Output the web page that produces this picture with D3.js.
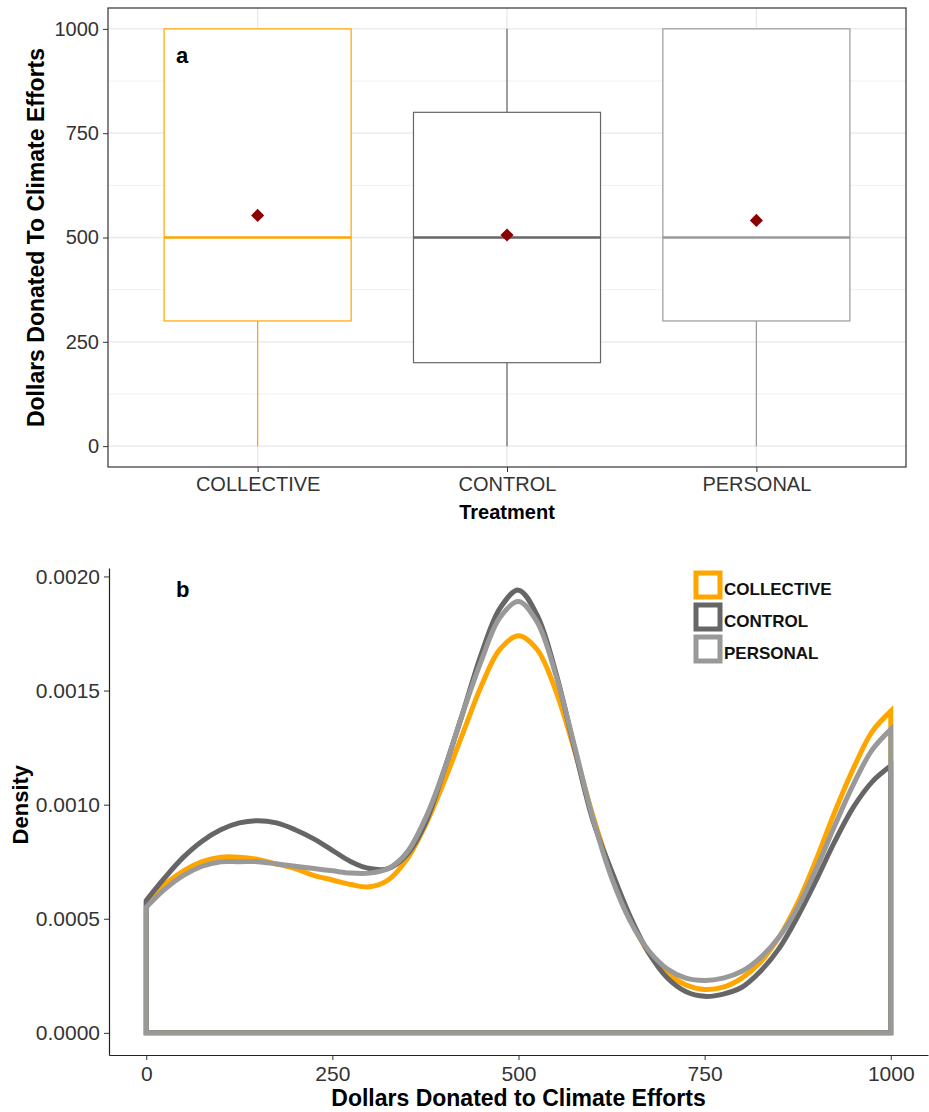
<!DOCTYPE html>
<html>
<head>
<meta charset="utf-8">
<title>Donations by treatment</title>
<script src="https://d3js.org/d3.v7.min.js"></script>
<style>
  body { margin: 0; background: #fff; }
  svg text { font-family: "Liberation Sans", Arial, sans-serif; }
</style>
</head>
<body>
<svg id="chart" width="929" height="1112"></svg>
<script>
// ---- data ----
const treatments = ["COLLECTIVE", "CONTROL", "PERSONAL"];
const boxLower  = [0, 0, 0];
const boxQ1     = [300, 200, 300];
const boxMedian = [500, 500, 500];
const boxQ3     = [1000, 800, 1000];
const boxUpper  = [1000, 1000, 1000];
const boxMean   = [553, 506, 541];
const boxYTicks = [0, 250, 500, 750, 1000];

const densityX = [0, 25, 50, 75, 100, 125, 150, 175, 200, 225, 250, 275, 300, 325, 350, 375, 400,
  425, 450, 475, 500, 525, 550, 575, 600, 625, 650, 675, 700, 725, 750, 775, 800, 825, 850, 875,
  900, 925, 950, 975, 1000];
const densityCollective = [0.00057, 0.00065, 0.00071, 0.00075, 0.00077, 0.00077, 0.00076, 0.00074,
  0.00072, 0.00069, 0.00067, 0.00065, 0.00064, 0.00067, 0.00076, 0.00091, 0.00110, 0.00131, 0.00152,
  0.00168, 0.00174, 0.00168, 0.00150, 0.00124, 0.00095, 0.00070, 0.00050, 0.00035, 0.00026, 0.00021,
  0.00019, 0.00020, 0.00024, 0.00031, 0.00042, 0.00057, 0.00076, 0.00097, 0.00116, 0.00132, 0.00141];
const densityControl = [0.00058, 0.00068, 0.00077, 0.00084, 0.00089, 0.00092, 0.00093, 0.00092,
  0.00089, 0.00085, 0.00080, 0.00075, 0.00072, 0.00072, 0.00078, 0.00092, 0.00115, 0.00140, 0.00166,
  0.00186, 0.00194, 0.00183, 0.00158, 0.00125, 0.00093, 0.00071, 0.00051, 0.00035, 0.00024, 0.00018,
  0.00016, 0.00017, 0.00020, 0.00027, 0.00037, 0.00051, 0.00067, 0.00084, 0.00099, 0.00110, 0.00117];
const densityPersonal = [0.00055, 0.00063, 0.00069, 0.00073, 0.00075, 0.00075, 0.00075, 0.00074,
  0.00073, 0.00072, 0.00071, 0.00070, 0.00070, 0.00072, 0.00079, 0.00094, 0.00115, 0.00140, 0.00163,
  0.00182, 0.00189, 0.00180, 0.00157, 0.00126, 0.00094, 0.00068, 0.00049, 0.00036, 0.00028, 0.00024,
  0.00023, 0.00024, 0.00027, 0.00033, 0.00042, 0.00055, 0.00072, 0.00091, 0.00109, 0.00124, 0.00133];
const densityXTicks = [0, 250, 500, 750, 1000];
const densityYTicks = [0, 0.0005, 0.0010, 0.0015, 0.0020];

const colors = {COLLECTIVE: "#ffa500", CONTROL: "#666666", PERSONAL: "#999999"};

const svg = d3.select("#chart");

// ================= panel a : box plot =================
const top_ = {left: 108, right: 906, top: 8, bottom: 467};

const xBox = d3.scalePoint()
  .domain(treatments)
  .range([top_.left, top_.right])
  .padding(0.6);

const yBox = d3.scaleLinear()
  .domain([-50, 1050])
  .range([top_.bottom, top_.top]);

const pa = svg.append("g");

// grid
const minor = [125, 375, 625, 875];
pa.selectAll(".minor").data(minor).join("line")
  .attr("x1", top_.left).attr("x2", top_.right)
  .attr("y1", d => yBox(d)).attr("y2", d => yBox(d))
  .attr("stroke", "#f0f0f0").attr("stroke-width", 1);
pa.selectAll(".major").data(boxYTicks).join("line")
  .attr("x1", top_.left).attr("x2", top_.right)
  .attr("y1", d => yBox(d)).attr("y2", d => yBox(d))
  .attr("stroke", "#e8e8e8").attr("stroke-width", 1.3);
pa.selectAll(".vgrid").data(treatments).join("line")
  .attr("x1", d => xBox(d)).attr("x2", d => xBox(d))
  .attr("y1", top_.top).attr("y2", top_.bottom)
  .attr("stroke", "#e8e8e8").attr("stroke-width", 1.3);

const boxW = xBox.step() * 0.75;
const boxes = treatments.map((t, i) => ({
  t, lower: boxLower[i], q1: boxQ1[i], med: boxMedian[i], q3: boxQ3[i], upper: boxUpper[i], mean: boxMean[i]
}));

const bg = pa.selectAll(".box").data(boxes).join("g");
// whiskers
bg.append("line")
  .attr("x1", d => xBox(d.t)).attr("x2", d => xBox(d.t))
  .attr("y1", d => yBox(d.upper)).attr("y2", d => yBox(d.q3))
  .attr("stroke", d => colors[d.t]).attr("stroke-width", 1.2);
bg.append("line")
  .attr("x1", d => xBox(d.t)).attr("x2", d => xBox(d.t))
  .attr("y1", d => yBox(d.q1)).attr("y2", d => yBox(d.lower))
  .attr("stroke", d => colors[d.t]).attr("stroke-width", 1.2);
bg.append("rect")
  .attr("x", d => xBox(d.t) - boxW / 2)
  .attr("width", boxW)
  .attr("y", d => yBox(d.q3))
  .attr("height", d => yBox(d.q1) - yBox(d.q3))
  .attr("fill", "#fff")
  .attr("stroke", d => colors[d.t]).attr("stroke-width", 1.2);
bg.append("line")
  .attr("x1", d => xBox(d.t) - boxW / 2).attr("x2", d => xBox(d.t) + boxW / 2)
  .attr("y1", d => yBox(d.med)).attr("y2", d => yBox(d.med))
  .attr("stroke", d => colors[d.t]).attr("stroke-width", 2.4);
bg.append("path")
  .attr("d", d3.symbol(d3.symbolDiamond2, 110))
  .attr("transform", d => `translate(${xBox(d.t)},${yBox(d.mean)})`)
  .attr("fill", "#8b0000");

// border
pa.append("rect")
  .attr("x", top_.left).attr("y", top_.top)
  .attr("width", top_.right - top_.left).attr("height", top_.bottom - top_.top)
  .attr("fill", "none").attr("stroke", "#333").attr("stroke-width", 1.2);

// axes
const ayA = pa.append("g")
  .attr("transform", `translate(${top_.left},0)`)
  .call(d3.axisLeft(yBox).tickValues(boxYTicks).tickFormat(d3.format("d")).tickSize(5).tickPadding(4));
const axA = pa.append("g")
  .attr("transform", `translate(0,${top_.bottom})`)
  .call(d3.axisBottom(xBox).tickSize(5).tickPadding(5));
[ayA, axA].forEach(g => {
  g.select(".domain").remove();
  g.selectAll(".tick line").attr("stroke", "#333");
  g.selectAll(".tick text").attr("fill", "#333").style("font-size", "20px")
    .style("font-family", "'Liberation Sans', Arial, sans-serif");
});

pa.append("text")
  .attr("x", xBox("CONTROL")).attr("y", 519)
  .attr("text-anchor", "middle")
  .style("font-size", "20px").style("font-weight", "bold")
  .text("Treatment");
pa.append("text")
  .attr("transform", `translate(44,${(top_.top + top_.bottom) / 2}) rotate(-90)`)
  .attr("text-anchor", "middle")
  .style("font-size", "23px").style("font-weight", "bold")
  .text("Dollars Donated To Climate Efforts");
pa.append("text")
  .attr("x", 176).attr("y", 63)
  .style("font-size", "22px").style("font-weight", "bold")
  .text("a");

// ================= panel b : density =================
const bot = {left: 109, right: 928, top: 568, bottom: 1055};

const xDen = d3.scaleLinear()
  .domain([-50, 1050])
  .range([bot.left, bot.right]);
const yDen = d3.scaleLinear()
  .domain([-0.000097, 0.002037])
  .range([bot.bottom, bot.top]);

const pb = svg.append("g");

const series = [
  {name: "COLLECTIVE", values: densityCollective},
  {name: "CONTROL", values: densityControl},
  {name: "PERSONAL", values: densityPersonal}
];

const line = d3.line()
  .x(d => xDen(d[0]))
  .y(d => yDen(d[1]))
  .curve(d3.curveCatmullRom.alpha(0.5));

series.forEach(s => {
  const pts = densityX.map((x, i) => [x, s.values[i]]);
  const curve = line(pts);
  const first = densityX[0], last = densityX[densityX.length - 1];
  const d = `M${xDen(first)},${yDen(0)}L` + curve.slice(1) +
    `L${xDen(last)},${yDen(0)}Z`;
  pb.append("path")
    .attr("d", d)
    .attr("fill", "none")
    .attr("stroke", colors[s.name])
    .attr("stroke-width", 5)
    .attr("stroke-linejoin", "miter");
});

const axB = pb.append("g")
  .attr("transform", `translate(0,${bot.bottom})`)
  .call(d3.axisBottom(xDen).tickValues(densityXTicks).tickFormat(d3.format("d"))
    .tickSize(5).tickSizeOuter(0).tickPadding(6));
const ayB = pb.append("g")
  .attr("transform", `translate(${bot.left},0)`)
  .call(d3.axisLeft(yDen).tickValues(densityYTicks).tickFormat(d3.format(".4f"))
    .tickSize(5).tickSizeOuter(0).tickPadding(4));
[axB, ayB].forEach(g => {
  g.select(".domain").attr("stroke", "#222").attr("stroke-width", 1.2);
  g.selectAll(".tick line").attr("stroke", "#333");
  g.selectAll(".tick text").attr("fill", "#333").style("font-size", "21px")
    .style("font-family", "'Liberation Sans', Arial, sans-serif");
});

pb.append("text")
  .attr("x", xDen(500)).attr("y", 1106)
  .attr("text-anchor", "middle")
  .style("font-size", "23px").style("font-weight", "bold")
  .text("Dollars Donated to Climate Efforts");
pb.append("text")
  .attr("transform", `translate(28,${yDen(0.001)}) rotate(-90)`)
  .attr("text-anchor", "middle")
  .style("font-size", "22px").style("font-weight", "bold")
  .text("Density");
pb.append("text")
  .attr("x", 176).attr("y", 597)
  .style("font-size", "22px").style("font-weight", "bold")
  .text("b");

// legend
const lg = pb.selectAll(".lg").data(treatments).join("g")
  .attr("transform", (d, i) => `translate(696,${573 + i * 32})`);
lg.append("rect")
  .attr("width", 24).attr("height", 24)
  .attr("fill", "#fff")
  .attr("stroke", d => colors[d]).attr("stroke-width", 5);
lg.append("text")
  .attr("x", 28).attr("y", 22)
  .style("font-size", "17px").style("font-weight", "bold")
  .attr("fill", "#111")
  .text(d => d);
</script>
</body>
</html>
